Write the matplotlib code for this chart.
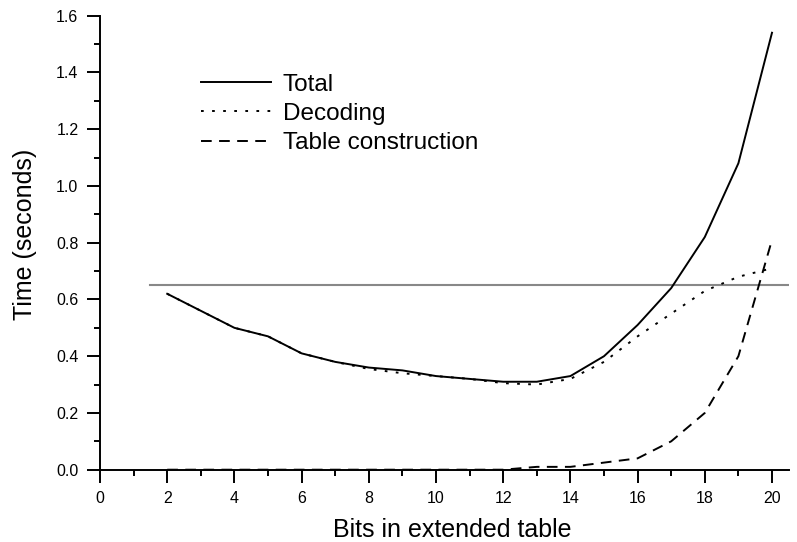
import matplotlib
matplotlib.use("Agg")
import matplotlib.pyplot as plt
from matplotlib.ticker import MultipleLocator

plt.rcParams['font.family'] = ['Liberation Sans', 'DejaVu Sans']

bits = [2, 3, 4, 5, 6, 7, 8, 9, 10, 11, 12, 13, 14, 15, 16, 17, 18, 19, 20]
total = [0.62, 0.56, 0.50, 0.47, 0.41, 0.38, 0.36, 0.35, 0.33, 0.32, 0.31, 0.31, 0.33,
         0.40, 0.51, 0.64, 0.82, 1.08, 1.54]
decoding = [0.62, 0.56, 0.50, 0.47, 0.41, 0.38, 0.355, 0.34, 0.33, 0.32, 0.305, 0.30, 0.32,
            0.38, 0.47, 0.55, 0.63, 0.68, 0.71]
table = [0.0, 0.0, 0.0, 0.0, 0.0, 0.0, 0.0, 0.0, 0.0, 0.0, 0.0, 0.01, 0.01,
         0.025, 0.04, 0.10, 0.20, 0.40, 0.81]
ref_level = 0.65
ref_span = [1.5, 20.5]

fig = plt.figure(figsize=(7.97, 5.42), dpi=100)
ax = fig.add_axes([0.1255, 0.1334, 0.8642, 0.8376])

ax.plot(ref_span, [ref_level, ref_level], color='#888888', lw=1.5, zorder=1)
ax.plot(bits, total, color='black', lw=1.4, ls='-', label='Total')
ax.plot(bits, decoding, color='black', lw=1.4, ls=(0, (1.4, 4.3)), label='Decoding')
ax.plot(bits, table, color='black', lw=1.4, ls=(0, (5.5, 3.8)), label='Table construction')

ax.set_xlim(0, 20.5)
ax.set_ylim(0, 1.6)
ax.xaxis.set_major_locator(MultipleLocator(2))
ax.xaxis.set_minor_locator(MultipleLocator(1))
ax.yaxis.set_major_locator(MultipleLocator(0.2))
ax.yaxis.set_minor_locator(MultipleLocator(0.1))
ax.yaxis.set_major_formatter(plt.FuncFormatter(lambda v, p: f"{v:.1f}"))

for s in ['top', 'right']:
    ax.spines[s].set_visible(False)
for s in ['left', 'bottom']:
    ax.spines[s].set_linewidth(1.4)
ax.tick_params(which='major', direction='out', length=9.5, width=1.4, labelsize=11.5)
ax.tick_params(axis='x', which='major', pad=5.5)
ax.tick_params(axis='y', which='major', pad=6)
ax.tick_params(which='minor', direction='out', length=4.3, width=1.4)

ax.set_xlabel('Bits in extended table', fontsize=18, va='baseline')
ax.set_ylabel('Time (seconds)', fontsize=18)
ax.xaxis.set_label_coords(0.511, -0.148)
ax.yaxis.set_label_coords(-0.0915, 0.519)

leg = ax.legend(loc='upper left', bbox_to_anchor=(0.1143, 0.92), frameon=False,
                fontsize=17.5, handlelength=2.88, handletextpad=0.5, labelspacing=0.29)

fig.savefig('out.png', dpi=100)
